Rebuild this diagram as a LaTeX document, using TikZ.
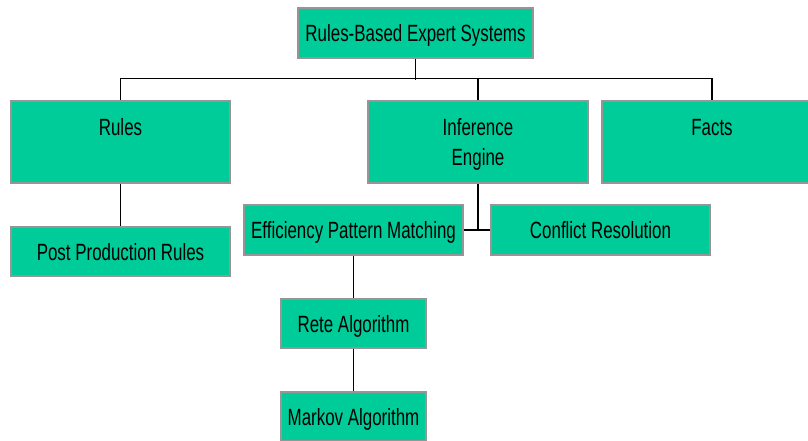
\documentclass[tikz,border=0pt]{standalone}
\usepackage{fontspec}
\setmainfont{Liberation Sans}[FakeStretch=0.72]
\usepackage{tikz}
\usetikzlibrary{positioning}
\definecolor{boxgreen}{RGB}{0,204,153}
\definecolor{boxedge}{RGB}{150,150,150}

\begin{document}
\begin{tikzpicture}[x=1pt, y=-1pt,
    chartbox/.style={draw=boxedge, line width=1.5pt, fill=boxgreen, inner sep=0pt, text depth=0pt, align=center, font=\fontsize{23.5}{30}\selectfont},
    link/.style={draw=black, line width=1.4pt}]
    \useasboundingbox (0,0) rectangle (808,441);
    \clip (0,0) rectangle (808,441);
    % top level
    \node[chartbox, minimum width=235pt, minimum height=50pt] (expert) at (415.5,33) {Rules-Based Expert Systems};
    % second level
    \node[chartbox, minimum width=219pt, minimum height=82pt] (rules) at (120.5,142) {Rules\\\phantom{Rules}};
    \node[chartbox, minimum width=220pt, minimum height=82pt] (inference) at (478,142) {Inference\\Engine};
    \node[chartbox, minimum width=220pt, minimum height=82pt] (facts) at (712,142) {Facts\\\phantom{Facts}};
    % below the rules and the engine
    \node[chartbox, minimum width=219pt, minimum height=49pt] (postprod) at (120.5,251.5) {Post Production Rules};
    \node[chartbox, minimum width=219pt, minimum height=50pt] (matching) at (353.5,230) {Efficiency Pattern Matching};
    \node[chartbox, minimum width=219pt, minimum height=50pt] (conflict) at (600.5,230) {Conflict Resolution};
    \node[chartbox, minimum width=145pt, minimum height=49pt] (rete) at (353.5,323.5) {Rete Algorithm};
    \node[chartbox, minimum width=145pt, minimum height=49pt] (markov) at (353.5,416.5) {Markov Algorithm};

    \draw[link] (expert.south) -- ++(0,21);
    \draw[link] (rules.north) -- ++(0,-22) -| (facts.north);
    \draw[link] (inference.north) -- ++(0,-22);
    \draw[link] (rules.south) -- (postprod.north);
    \draw[link] (inference.south) -- (inference.south |- conflict.west);
    \draw[link] (matching.east) -- (conflict.west);
    \draw[link] (matching.south) -- (rete.north);
    \draw[link] (rete.south) -- (markov.north);
\end{tikzpicture}
\end{document}
